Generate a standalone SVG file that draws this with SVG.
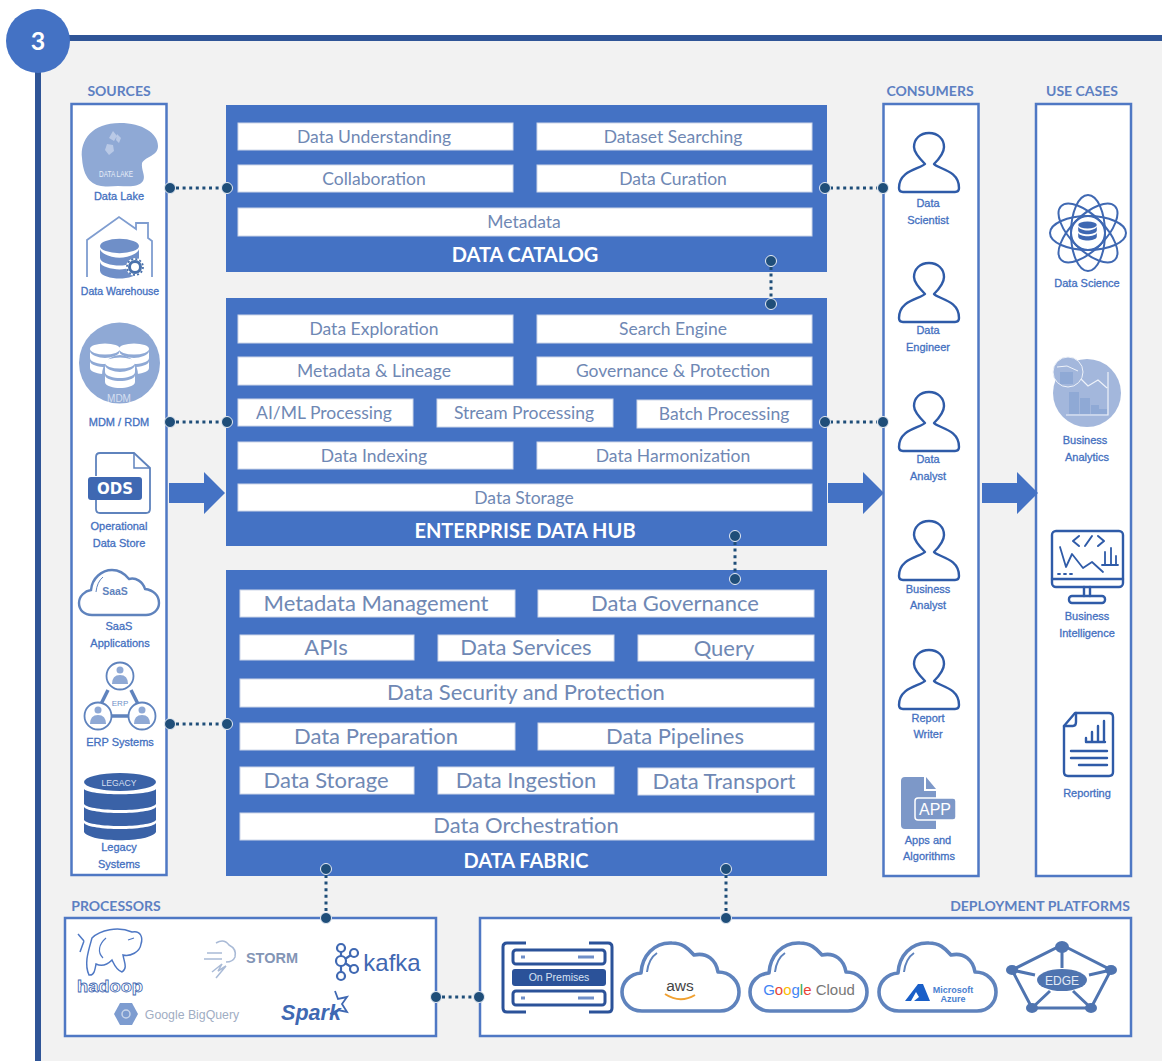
<svg xmlns="http://www.w3.org/2000/svg" width="1162" height="1061" viewBox="0 0 1162 1061">
<style>
text{font-family:"Liberation Sans",Arial,sans-serif;text-anchor:middle}
.h{font-family:Lato,"Liberation Sans",sans-serif;font-weight:700;font-size:14px;fill:#5d80c2}
.t{font-family:Lato,"Liberation Sans",sans-serif;font-weight:700;font-size:20px;fill:#fff}
.b{font-family:Lato,"Liberation Sans",sans-serif;font-size:17.500px;fill:#6f88b4}
.f{font-family:Lato,"Liberation Sans",sans-serif;font-size:22px;fill:#6f88b4}
.l{font-size:11px;fill:#4470bf;stroke:#4470bf;stroke-width:.3}
.panel{fill:#fff;stroke:#4f78c4;stroke-width:2.5}
.blk{fill:#4472c4}
.wb{fill:#fff;stroke:#cdd6e8;stroke-width:1}
.dot{fill:#1f4e79;stroke:#e6ecf5;stroke-width:1}
.dl{stroke:#1f4e79;stroke-width:3;stroke-dasharray:3 3.6;fill:none}
.ic{fill:none;stroke:#2f5ba8;stroke-width:2.4;stroke-linejoin:round;stroke-linecap:round}
.cl{fill:#fff;stroke:#5f83bd;stroke-width:3.6;stroke-linejoin:round}
</style>
<defs>
<path id="person" class="ic" d="M-4 31C-11 24-15 18-15 14C-15 6-9 0 0 0C9 0 15 6 15 14C15 18 11 25 5 31C9 36 30 37 30 55Q30 59 26 59L-26 59Q-30 59-30 55C-30 37-9 36-4 31Z"/>
<g id="cloud"><path class="cl" d="M20 69C6 69 0 58 0 50C0 40 8 32 19 31C20 14 32 0 50 1C60 1 66 6 72 13C85 10 94 18 96 30C108 30 117 39 117 50C117 60 110 69 98 69Z"/><path d="M25 30C26 22 29 15 35 11" fill="none" stroke="#5f83bd" stroke-width="2"/></g>
<g id="disk"><ellipse cx="0" cy="0" rx="15" ry="5.5"/><path d="M-15 2C-15 6-6 9 0 9C6 9 15 6 15 2V9C15 13 6 15 0 15C-6 15-15 13-15 9Z"/><path d="M-15 12C-15 16-6 18 0 18C6 18 15 16 15 12V19C15 23 6 25 0 25C-6 25-15 23-15 19Z"/></g>
<path id="arrow" class="blk" d="M0-10H35V-21L56 0L35 21V10H0Z"/>
</defs>

<rect x="38" y="38" width="1124" height="1023" fill="#f2f2f2"/>
<path d="M38 1061V38H1162" fill="none" stroke="#2f5597" stroke-width="6"/>
<g id="step"><circle cx="38" cy="41" r="32" fill="#4472c4"/><text x="38" y="50" font-size="25" font-weight="700" fill="#fff" style="font-family:Lato,sans-serif">3</text></g>

<g id="sources">
<text class="h" x="119" y="96">SOURCES</text>
<rect class="panel" x="71.500" y="104" width="95" height="771"/>
<g id="data-lake">
<path d="M82 158C80 140 92 123 120 123C142 123 158 133 158 146C158 156 146 156 142 163C141 170 146 176 143 181C138 188 128 186 118 186C104 187 84 190 82 158Z" fill="#8fa9d5"/>
<path d="M113 131l4 5-3 5-5-3zM117 134l4 4-2 5-3-3zM107 144l6 1 1 6-5 4-4-5z" fill="#b9c9e6"/>
<text x="116" y="177" font-size="8.500" fill="#e8eef8" textLength="34" lengthAdjust="spacingAndGlyphs">DATA LAKE</text>
<text class="l" x="119" y="200">Data Lake</text></g>
<g id="data-warehouse">
<path d="M87 277V240L119 217L136 229V223H148V238L152 241V277" fill="none" stroke="#7f9dd0" stroke-width="1.800"/>
<g transform="translate(119.500 246) scale(1.300)" fill="#6f8fc8"><use href="#disk"/></g>
<circle cx="135" cy="267" r="9" fill="#fff"/><circle cx="135" cy="267" r="5.500" fill="#fff" stroke="#4a72ac" stroke-width="3"/><circle cx="135" cy="267" r="8" fill="none" stroke="#4a72ac" stroke-width="1.800" stroke-dasharray="2 2.200"/>
<text class="l" x="120" y="295" style="font-size:10.500px">Data Warehouse</text></g>
<g id="mdm">
<circle cx="119.500" cy="363" r="40.500" fill="#8fa9d5"/>
<g fill="#fff"><use href="#disk" x="105" y="349"/><use href="#disk" x="134" y="349"/></g>
<ellipse cx="120" cy="375" rx="18" ry="20" fill="#8fa9d5"/>
<g fill="#fff"><use href="#disk" x="120" y="363"/></g>
<text x="119" y="402" font-size="10" fill="#d5dff0">MDM</text>
<text class="l" x="119" y="426">MDM / RDM</text></g>
<g id="ods">
<path d="M96 476V457Q96 453 100 453H134L150 468V509Q150 513 146 513H100Q96 513 96 509V500" fill="#fff" stroke="#5f83bd" stroke-width="1.800"/>
<path d="M134 453V468H150" fill="none" stroke="#5f83bd" stroke-width="1.500"/>
<rect x="88" y="477" width="54" height="23" rx="3" fill="#3f68b2"/>
<text x="115" y="494" font-size="15" font-weight="700" fill="#fff" style="font-family:'DejaVu Sans',sans-serif">ODS</text>
<text class="l" x="119" y="530">Operational</text><text class="l" x="119" y="547">Data Store</text></g>
<g id="saas">
<path d="M92 615C84 615 79 610 79 603C79 596 85 591 91 590C92 578 102 570 112 570C120 570 125 574 129 579C136 577 143 582 145 589C153 590 159 595 159 603C159 610 153 615 146 615Z" fill="#fff" stroke="#5f83bd" stroke-width="2.400"/>
<path d="M96 592Q97 582 103 577" fill="none" stroke="#5f83bd" stroke-width="1"/>
<text x="115" y="595" font-size="10.500" font-weight="700" fill="#5f83bd">SaaS</text>
<text class="l" x="119" y="630">SaaS</text><text class="l" x="120" y="647">Applications</text></g>
<g id="erp">
<path d="M108 690L101 704M131 690L138 704M112 716H128" stroke="#5f83bd" stroke-width="3.500" fill="none"/>
<g fill="#fff" stroke="#5f83bd" stroke-width="1.800"><circle cx="120" cy="676" r="13.500"/><circle cx="98" cy="716" r="13.500"/><circle cx="142" cy="716" r="13.500"/></g>
<g fill="#8fa9d5"><circle cx="120" cy="670" r="3.500"/><path d="M112 684Q112 675 120 675Q128 675 128 684Z"/><circle cx="98" cy="710" r="3.500"/><path d="M90 724Q90 715 98 715Q106 715 106 724Z"/><circle cx="142" cy="710" r="3.500"/><path d="M134 724Q134 715 142 715Q150 715 150 724Z"/></g>
<text x="120" y="706" font-size="8" fill="#6f8fc8">ERP</text>
<text class="l" x="120" y="746">ERP Systems</text></g>
<g id="legacy">
<ellipse cx="120" cy="782" rx="36" ry="9" fill="#3a62a7"/>
<path d="M84 789C90 796 150 796 156 789V804C150 812 90 812 84 804ZM84 807C90 815 150 815 156 807V820C150 828 90 828 84 820ZM84 823C90 831 150 831 156 823V832C150 843 90 843 84 832Z" fill="#3a62a7"/>
<text x="119" y="786" font-size="9" fill="#d5dff0" textLength="35" lengthAdjust="spacingAndGlyphs">LEGACY</text>
<text class="l" x="119" y="851">Legacy</text><text class="l" x="119" y="868">Systems</text></g>
</g>

<g id="data-catalog">
<rect class="blk" x="226" y="105" width="601" height="167"/>
<rect class="wb" x="238" y="123" width="275" height="27"/><text class="b" x="374" y="142.500">Data Understanding</text>
<rect class="wb" x="537" y="123" width="275" height="27"/><text class="b" x="673" y="142.500">Dataset Searching</text>
<rect class="wb" x="238" y="165" width="275" height="27"/><text class="b" x="374" y="184.500">Collaboration</text>
<rect class="wb" x="537" y="165" width="275" height="27"/><text class="b" x="673" y="184.500">Data Curation</text>
<rect class="wb" x="238" y="208" width="574" height="28"/><text class="b" x="524" y="227.500">Metadata</text>
<text class="t" x="525" y="262">DATA CATALOG</text>
</g>

<g id="enterprise-data-hub">
<rect class="blk" x="226" y="298" width="601" height="248"/>
<rect class="wb" x="238" y="315" width="275" height="28"/><text class="b" x="374" y="334.500">Data Exploration</text>
<rect class="wb" x="537" y="315" width="275" height="28"/><text class="b" x="673" y="334.500">Search Engine</text>
<rect class="wb" x="238" y="357" width="275" height="28"/><text class="b" x="374" y="376.500">Metadata &amp; Lineage</text>
<rect class="wb" x="537" y="357" width="275" height="28"/><text class="b" x="673" y="376.500">Governance &amp; Protection</text>
<rect class="wb" x="238" y="399" width="175" height="27"/><text class="b" x="324" y="418.500">AI/ML Processing</text>
<rect class="wb" x="437" y="399" width="176" height="28"/><text class="b" x="524" y="418.500">Stream Processing</text>
<rect class="wb" x="637" y="400" width="175" height="28"/><text class="b" x="724" y="419.500">Batch Processing</text>
<rect class="wb" x="238" y="442" width="275" height="27"/><text class="b" x="374" y="461.500">Data Indexing</text>
<rect class="wb" x="537" y="442" width="275" height="27"/><text class="b" x="673" y="461.500">Data Harmonization</text>
<rect class="wb" x="238" y="484" width="574" height="27"/><text class="b" x="524" y="503.500">Data Storage</text>
<text class="t" x="525" y="538">ENTERPRISE DATA HUB</text>
</g>

<g id="data-fabric">
<rect class="blk" x="226" y="570" width="601" height="306"/>
<rect class="wb" x="240" y="590" width="275" height="27"/><text class="f" x="376" y="611">Metadata Management</text>
<rect class="wb" x="538" y="590" width="276" height="27"/><text class="f" x="675" y="611">Data Governance</text>
<rect class="wb" x="240" y="635" width="174" height="25"/><text class="f" x="326" y="655">APIs</text>
<rect class="wb" x="438" y="635" width="176" height="26"/><text class="f" x="526" y="655">Data Services</text>
<rect class="wb" x="638" y="635" width="176" height="26"/><text class="f" x="724" y="656">Query</text>
<rect class="wb" x="240" y="679" width="574" height="28"/><text class="f" x="526" y="700">Data Security and Protection</text>
<rect class="wb" x="240" y="723" width="275" height="27"/><text class="f" x="376" y="744">Data Preparation</text>
<rect class="wb" x="538" y="723" width="276" height="27"/><text class="f" x="675" y="744">Data Pipelines</text>
<rect class="wb" x="240" y="767" width="174" height="27"/><text class="f" x="326" y="788">Data Storage</text>
<rect class="wb" x="438" y="767" width="176" height="27"/><text class="f" x="526" y="788">Data Ingestion</text>
<rect class="wb" x="638" y="768" width="176" height="27"/><text class="f" x="724" y="789">Data Transport</text>
<rect class="wb" x="240" y="813" width="574" height="27"/><text class="f" x="526" y="833">Data Orchestration</text>
<text class="t" x="526" y="868">DATA FABRIC</text>
</g>

<g id="consumers">
<text class="h" x="930" y="96">CONSUMERS</text>
<rect class="panel" x="883.500" y="104" width="95" height="772"/>
<g id="data-scientist"><use href="#person" x="929" y="133"/><text class="l" x="928" y="207">Data</text><text class="l" x="928" y="224">Scientist</text></g>
<g id="data-engineer"><use href="#person" x="929" y="263"/><text class="l" x="928" y="334">Data</text><text class="l" x="928" y="351">Engineer</text></g>
<g id="data-analyst"><use href="#person" x="929" y="392"/><text class="l" x="928" y="463">Data</text><text class="l" x="928" y="480">Analyst</text></g>
<g id="business-analyst"><use href="#person" x="929" y="521"/><text class="l" x="928" y="593">Business</text><text class="l" x="928" y="609">Analyst</text></g>
<g id="report-writer"><use href="#person" x="929" y="650"/><text class="l" x="928" y="722">Report</text><text class="l" x="928" y="738">Writer</text></g>
<g id="apps">
<path d="M901 781Q901 777 905 777H924V791H936V829H905Q901 829 901 825Z" fill="#7d98c8"/><path d="M926 777L936 789H926Z" fill="#7d98c8"/>
<rect x="915" y="798" width="41" height="22" rx="3" fill="#7d98c8" stroke="#fff" stroke-width="1.500"/>
<text x="935" y="815" font-size="16" fill="#fff">APP</text>
<text class="l" x="928" y="844">Apps and</text><text class="l" x="929" y="860">Algorithms</text></g>
</g>

<g id="use-cases">
<text class="h" x="1082" y="96">USE CASES</text>
<rect class="panel" x="1036" y="104" width="95" height="772"/>
<g id="data-science">
<g fill="none" stroke="#3f68b2" stroke-width="2"><ellipse cx="1088" cy="233" rx="38" ry="17"/><ellipse cx="1088" cy="233" rx="38" ry="17" transform="rotate(45 1088 233)"/><ellipse cx="1088" cy="233" rx="38" ry="17" transform="rotate(90 1088 233)"/><ellipse cx="1088" cy="233" rx="38" ry="17" transform="rotate(135 1088 233)"/><circle cx="1088" cy="233" r="17"/></g>
<circle cx="1088" cy="233" r="15" fill="#fff"/>
<g transform="translate(1087.500 225) scale(.62)" fill="#3f68b2"><use href="#disk"/></g>
<text class="l" x="1087" y="287">Data Science</text></g>
<g id="business-analytics">
<circle cx="1087" cy="393" r="34" fill="#a3b7dc"/>
<rect x="1069" y="392" width="10" height="22" fill="#8fa9d5"/><rect x="1080" y="398" width="10" height="16" fill="#8fa9d5"/><rect x="1091" y="405" width="8" height="9" fill="#8fa9d5"/><rect x="1099" y="409" width="8" height="5" fill="#8fa9d5"/>
<path d="M1066 415H1108V372M1080 378L1088 386L1098 380L1107 388" fill="none" stroke="#eef2f9" stroke-width="1.200"/>
<circle cx="1068" cy="372" r="15" fill="#a3b7dc" stroke="#eef2f9" stroke-width="1"/>
<rect x="1060" y="372" width="13" height="12" fill="#8fa9d5"/>
<path d="M1057 367L1067 366L1078 371" fill="none" stroke="#eef2f9" stroke-width="1"/>
<text class="l" x="1085" y="444">Business</text><text class="l" x="1087" y="461">Analytics</text></g>
<g id="business-intelligence">
<g class="ic"><rect x="1052" y="531" width="71" height="56" rx="4"/><path d="M1052 579H1123M1084 587V596M1090 587V596"/><rect x="1069" y="596" width="36" height="7" rx="3"/>
<path d="M1060 547L1066 567L1072 554L1083 568L1092 562L1103 572" stroke-width="1.800"/><path d="M1079 536L1073 541L1079 546M1098 536L1104 541L1098 546M1085 546L1092 536" stroke-width="2"/><path d="M1102 565H1118M1105 565V552M1111 565V548M1116 565V556" stroke-width="1.800"/><path d="M1058 574h2M1064 574h2M1070 574h2" stroke-width="1.800"/></g>
<text class="l" x="1087" y="620">Business</text><text class="l" x="1087" y="637">Intelligence</text></g>
<g id="reporting">
<g class="ic" stroke-width="2"><path d="M1064 726L1075 713H1109Q1113 713 1113 717V772Q1113 776 1109 776H1068Q1064 776 1064 772Z"/><path d="M1064 726H1073Q1076 726 1076 722V713"/><path d="M1086 742V738M1092 742V732M1098 742V726M1104 742V721M1086 742H1105M1071 751H1107M1071 758H1107M1079 765H1107"/></g>
<text class="l" x="1087" y="797">Reporting</text></g>
</g>

<g id="processors">
<text class="h" x="116" y="911">PROCESSORS</text>
<rect class="panel" x="65" y="918" width="371" height="118"/>
<g id="hadoop">
<path d="M92 938C100 930 118 926 132 932C141 930 143 938 141 944C140 952 130 957 123 955C124 962 128 968 122 972C116 970 114 964 112 960C106 966 100 966 96 964C95 970 94 976 89 975C84 964 88 952 92 938ZM84 941L78 934M84 941L80 952" fill="#fff" stroke="#4f78c4" stroke-width="1.500"/>
<path d="M106 938C99 944 97 952 103 958M128 940L134 938" fill="none" stroke="#4f78c4" stroke-width="1.200"/>
<text x="110" y="992" font-size="17" font-weight="700" fill="#fff" stroke="#3f68b2" stroke-width=".8" textLength="66" lengthAdjust="spacingAndGlyphs">hadoop</text></g>
<g id="storm">
<path d="M207 953H222M204 959H222M216 943Q224 938 229 945Q237 949 235 957Q233 962 226 962M212 972L222 964L218 971L226 966L216 978" fill="none" stroke="#a9bad6" stroke-width="1.500"/>
<text x="272" y="963" font-size="14.500" font-weight="700" fill="#8395b5" style="font-family:'Liberation Sans',sans-serif">STORM</text></g>
<g id="kafka">
<g fill="none" stroke="#3f68b2" stroke-width="2.200"><circle cx="341" cy="948" r="4"/><circle cx="341" cy="961" r="5"/><circle cx="341" cy="976" r="4"/><circle cx="354" cy="953" r="4"/><circle cx="354" cy="969" r="4"/><path d="M341 952V956M341 966V972M345 959L351 955M345 963L351 967"/></g>
<text x="392" y="971" font-size="24" fill="#3f68b2" style="font-family:'Liberation Sans',sans-serif">kafka</text></g>
<g id="bigquery">
<path d="M120 1003H132L138 1014L132 1025H120L114 1014Z" fill="#7d9cd0"/><circle cx="126" cy="1014" r="4" fill="none" stroke="#c8d5ea" stroke-width="1.500"/>
<text x="192" y="1019" font-size="12.300" fill="#9fadc3" style="font-family:'Liberation Sans',sans-serif">Google BigQuery</text></g>
<g id="spark">
<path d="M335 991L338 999L347 997L342 1004L347 1012L338 1010L330 1014" fill="none" stroke="#3f68b2" stroke-width="1.800"/>
<text x="311" y="1020" font-size="21.500" font-weight="700" font-style="italic" fill="#3f68b2" style="font-family:'Liberation Sans',sans-serif">Spark</text></g>
</g>

<g id="deployment-platforms">
<text class="h" x="1040" y="911">DEPLOYMENT PLATFORMS</text>
<rect class="panel" x="480" y="918" width="651" height="118"/>
<g id="on-premises">
<path d="M526 943H507Q503 943 503 947V1008Q503 1012 507 1012H526M589 943H608Q612 943 612 947V1008Q612 1012 608 1012H589" fill="none" stroke="#2b5299" stroke-width="3"/>
<rect x="513" y="950" width="92" height="14" rx="3" fill="#fff" stroke="#2b5299" stroke-width="3"/>
<rect x="512" y="969" width="94" height="17" rx="3" fill="#2b5299"/>
<rect x="513" y="991" width="92" height="14" rx="3" fill="#fff" stroke="#2b5299" stroke-width="3"/>
<path d="M521 957h4M521 998h4M578 957h16M578 998h16" stroke="#6f8fc8" stroke-width="3"/>
<text x="559" y="981" font-size="10.500" fill="#d9e2f2">On Premises</text></g>
<g id="aws"><use href="#cloud" x="622" y="942"/>
<text x="680" y="991" font-size="15.500" fill="#444" style="font-family:'Liberation Sans',sans-serif">aws</text>
<path d="M665 994Q680 1004 695 995" fill="none" stroke="#f0a030" stroke-width="2"/></g>
<g id="google-cloud"><use href="#cloud" x="750" y="942"/>
<text x="809" y="995" font-size="15" style="font-family:'Liberation Sans',sans-serif"><tspan fill="#4285f4">G</tspan><tspan fill="#ea4335">o</tspan><tspan fill="#fbbc05">o</tspan><tspan fill="#4285f4">g</tspan><tspan fill="#34a853">l</tspan><tspan fill="#ea4335">e</tspan><tspan fill="#777"> Cloud</tspan></text></g>
<g id="azure"><use href="#cloud" x="879" y="942"/>
<path d="M905 1001L918 984L923 984L930 1001H914L919 997L916 992L911 1001Z" fill="#1a5fc8"/>
<text x="953" y="993" font-size="9" font-weight="700" fill="#4a7fd0">Microsoft</text><text x="953" y="1002" font-size="9" font-weight="700" fill="#4a7fd0">Azure</text></g>
<g id="edge">
<path d="M1062 945L1111 970L1091 1008H1032L1012 970Z" fill="none" stroke="#4f74b0" stroke-width="3"/>
<path d="M1062 945V968M1012 970L1035 975M1111 970L1089 975M1032 1008L1050 991M1091 1008L1073 991" stroke="#4f74b0" stroke-width="3"/>
<g fill="#4f74b0"><ellipse cx="1062" cy="947" rx="7" ry="6"/><ellipse cx="1012" cy="970" rx="6" ry="5"/><ellipse cx="1111" cy="970" rx="6" ry="5"/><ellipse cx="1032" cy="1008" rx="6" ry="5"/><ellipse cx="1091" cy="1008" rx="6" ry="5"/><ellipse cx="1062" cy="980" rx="25" ry="11"/></g>
<text x="1062" y="985" font-size="12" fill="#e3eaf6">EDGE</text></g>
</g>

<g id="connectors">
<path class="dl" d="M176 188H222M176 422H222M176 724H222M830 188H877M830 422H877M771 267V298M735 542V573M326 875V912M726 875V912M442 997H472"/>
<g id="flow-arrows"><use href="#arrow" x="169" y="493"/><use href="#arrow" x="828" y="493"/><use href="#arrow" x="982" y="493"/></g>
<g>
<circle class="dot" cx="170" cy="188" r="5.500"/><circle class="dot" cx="227" cy="188" r="5.500"/>
<circle class="dot" cx="170" cy="422" r="5.500"/><circle class="dot" cx="227" cy="422" r="5.500"/>
<circle class="dot" cx="170" cy="724" r="5.500"/><circle class="dot" cx="227" cy="724" r="5.500"/>
<circle class="dot" cx="825" cy="188" r="5.500"/><circle class="dot" cx="883" cy="188" r="5.500"/>
<circle class="dot" cx="825" cy="422" r="5.500"/><circle class="dot" cx="883" cy="422" r="5.500"/>
<circle class="dot" cx="771" cy="261" r="5.500"/><circle class="dot" cx="771" cy="304" r="5.500"/>
<circle class="dot" cx="735" cy="536" r="5.500"/><circle class="dot" cx="735" cy="579" r="5.500"/>
<circle class="dot" cx="326" cy="869" r="5.500"/><circle class="dot" cx="326" cy="918" r="5.500"/>
<circle class="dot" cx="726" cy="869" r="5.500"/><circle class="dot" cx="726" cy="918" r="5.500"/>
<circle class="dot" cx="436" cy="997" r="5.500"/><circle class="dot" cx="479" cy="997" r="5.500"/>
</g>
</g>
</svg>
